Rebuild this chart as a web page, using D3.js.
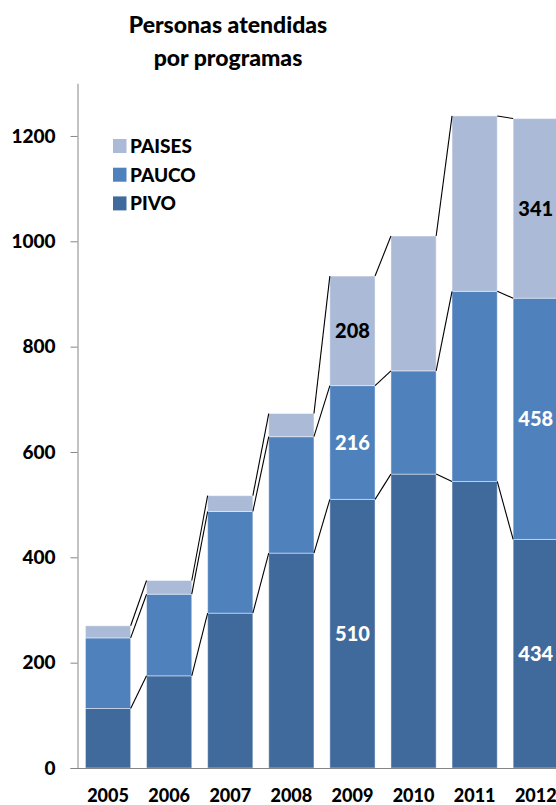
<!DOCTYPE html>
<html>
<head>
<meta charset="utf-8">
<script src="https://cdn.jsdelivr.net/npm/d3@7"></script>
<style>
  html, body { margin: 0; padding: 0; background: #fff; }
  svg { display: block; }
  text { font-family: Lato, "Open Sans", sans-serif; font-weight: 900; }
</style>
</head>
<body>
<svg id="chart" width="556" height="805"></svg>
<script>
// Personas atendidas por programa y año
const years  = ["2005", "2006", "2007", "2008", "2009", "2010", "2011", "2012"];
const pivo   = [113, 175, 294, 408, 510, 558, 544, 434];
const pauco  = [134, 155, 193, 221, 216, 196, 361, 458];
const paises = [23, 26, 30, 44, 208, 256, 333, 341];
const seriesNames = ["PIVO", "PAUCO", "PAISES"];
const yTicks = [0, 200, 400, 600, 800, 1000, 1200];
// values printed on the bars: [year index, series key]
const labelled = [[4, "PIVO"], [4, "PAUCO"], [4, "PAISES"], [7, "PIVO"], [7, "PAUCO"], [7, "PAISES"]];

const colors = { PIVO: "#416A9C", PAUCO: "#4F81BD", PAISES: "#AABAD7" };
const labelColors = { PIVO: "#fff", PAUCO: "#fff", PAISES: "#000" };

const rows = years.map((y, i) => ({ year: y, PIVO: pivo[i], PAUCO: pauco[i], PAISES: paises[i] }));
const stacked = d3.stack().keys(seriesNames)(rows);

const svg = d3.select("#chart");
const x0 = 77.5, yBase = 768;

const x = d3.scaleBand().domain(years).range([x0, x0 + 8 * 61.1]).paddingInner(0.26).paddingOuter(0.13);
const y = d3.scaleLinear().domain([0, 1300]).range([yBase, yBase - 1300 * 0.5267]);

// title
svg.append("text").attr("x", 228).attr("y", 33).attr("text-anchor", "middle")
  .attr("font-size", 23).text("Personas atendidas");
svg.append("text").attr("x", 228).attr("y", 65.5).attr("text-anchor", "middle")
  .attr("font-size", 23).text("por programas");

// bars
const g = svg.append("g");
g.selectAll("g.series").data(stacked).join("g")
  .attr("class", "series")
  .attr("fill", d => colors[d.key])
  .selectAll("rect").data(d => d).join("rect")
  .attr("x", d => x(d.data.year))
  .attr("width", x.bandwidth())
  .attr("y", d => y(d[1]))
  .attr("height", d => y(d[0]) - y(d[1]))
  .attr("stroke", "rgba(255,255,255,0.45)")
  .attr("stroke-width", 1);

// series lines joining the top of each segment to the next bar
stacked.forEach(s => {
  for (let i = 0; i < s.length - 1; i++) {
    g.append("line")
      .attr("x1", x(years[i]) + x.bandwidth()).attr("y1", y(s[i][1]))
      .attr("x2", x(years[i + 1])).attr("y2", y(s[i + 1][1]))
      .attr("stroke", "#000").attr("stroke-width", 1.1);
  }
});

// value labels
labelled.forEach(([i, key]) => {
  const s = stacked.find(d => d.key === key)[i];
  svg.append("text")
    .attr("x", x(years[i]) + x.bandwidth() / 2)
    .attr("y", (y(s[0]) + y(s[1])) / 2)
    .attr("dy", "0.36em")
    .attr("text-anchor", "middle")
    .attr("font-size", 20)
    .attr("fill", labelColors[key])
    .text(s.data[key]);
});

// y axis
const yAxis = d3.axisLeft(y).tickValues(yTicks).tickFormat(d3.format("d"))
  .tickSize(7).tickPadding(15).tickSizeOuter(0);
const ya = svg.append("g").attr("transform", `translate(${x0},0)`).call(yAxis);
ya.select(".domain").attr("stroke", "#868686");
ya.selectAll(".tick line").attr("stroke", "#868686");
ya.selectAll(".tick text").attr("font-size", 19).attr("font-family", "Lato").attr("font-weight", 900).attr("fill", "#000");

// x axis
const xAxis = d3.axisBottom(x).tickSize(0).tickPadding(21);
const xa = svg.append("g").attr("transform", `translate(0,${yBase})`).call(xAxis);
xa.select(".domain").attr("stroke", "#868686").attr("d", `M${x0 - 7},0.5H600`);
xa.selectAll(".tick text").attr("font-size", 18).attr("font-family", "Lato").attr("font-weight", 900).attr("fill", "#000");

// legend
const legendKeys = ["PAISES", "PAUCO", "PIVO"];
const lg = svg.append("g").attr("transform", "translate(113,139)");
legendKeys.forEach((k, i) => {
  lg.append("rect").attr("x", 0).attr("y", i * 28.7).attr("width", 13.5).attr("height", 14).attr("fill", colors[k]);
  lg.append("text").attr("x", 17).attr("y", i * 28.7 + 7).attr("dy", "0.36em")
    .attr("font-size", 19).attr("fill", "#000").text(k);
});
</script>
</body>
</html>
